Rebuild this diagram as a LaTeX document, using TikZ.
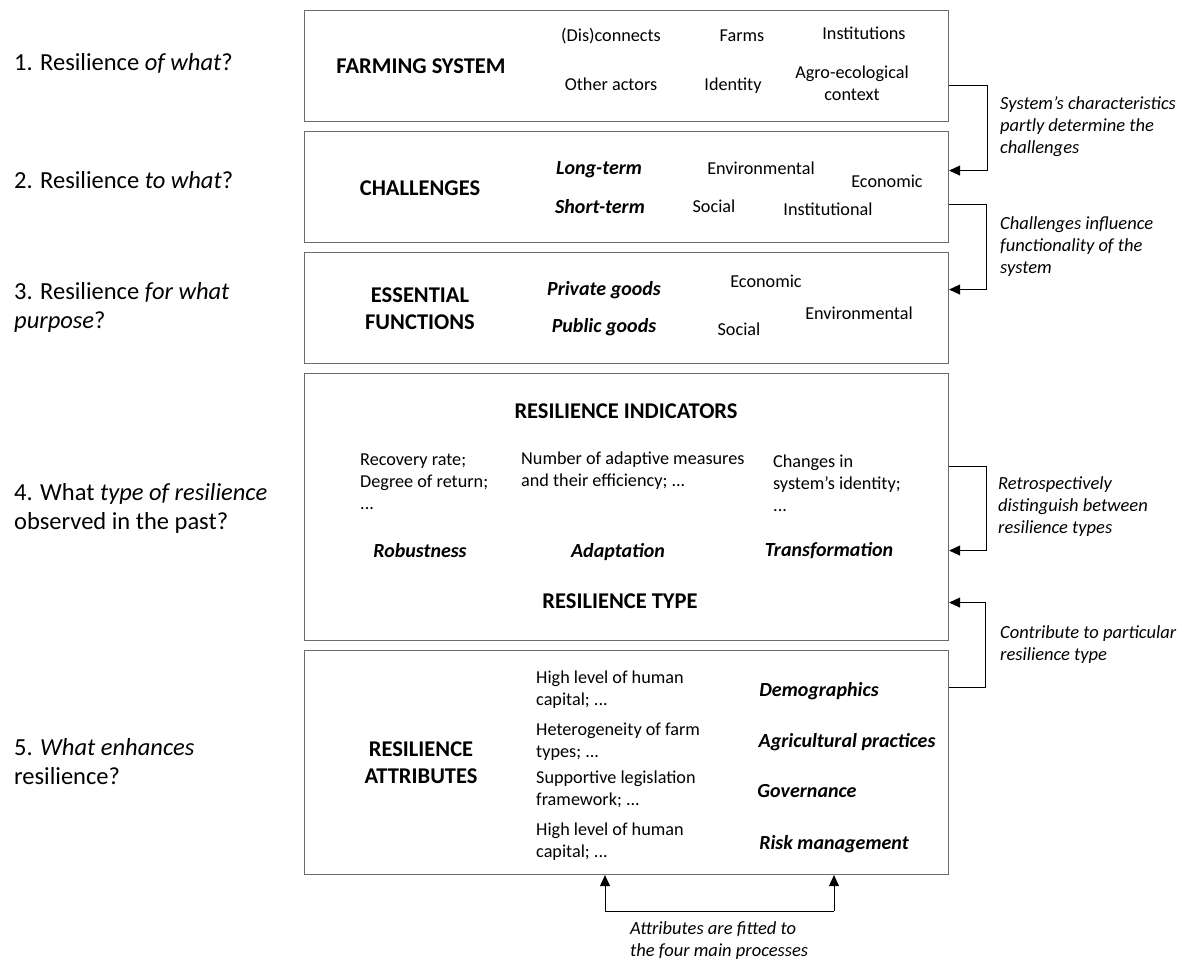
\documentclass[tikz,border=0pt]{standalone}
\usepackage{fontspec}
\setmainfont{Carlito}
\usetikzlibrary{arrows.meta}

\tikzset{
	box/.style={draw=gray!85!black,line width=1.1pt,minimum width=644pt,anchor=north west,inner sep=0pt},
	arr/.style={-{Triangle[length=11pt,width=10pt]},line width=0.9pt},
	lbl/.style={font=\fontsize{24.5}{29}\selectfont,align=left,anchor=base west,inner sep=0pt},
	head/.style={font=\fontsize{22.5}{27}\selectfont\bfseries,align=center,anchor=base,inner sep=0pt},
	txt/.style={font=\fontsize{18.2}{22}\selectfont,align=center,anchor=base,inner sep=0pt},
	ltxt/.style={font=\fontsize{18.2}{22}\selectfont,align=left,anchor=base west,inner sep=0pt},
	key/.style={font=\fontsize{20}{22}\selectfont\bfseries\itshape,anchor=base,inner sep=0pt},
	note/.style={font=\fontsize{18.5}{22}\selectfont\itshape,align=left,anchor=base west,inner sep=0pt}
}

\begin{document}
\begin{tikzpicture}[x=1pt,y=-1pt]
	\useasboundingbox (0,0) rectangle (1184,961);
	% the five boxes
	\node[box,minimum height=111pt] (farm) at (304,10) {};
	\node[box,minimum height=111pt] (chal) at (304,131) {};
	\node[box,minimum height=111pt] (func) at (304,252) {};
	\node[box,minimum height=267pt] (type) at (304,373) {};
	\node[box,minimum height=224pt] (attr) at (304,650) {};
	
	% questions on the left (base = last line)
	\node[lbl] (q1) at (14,70) {1. Resilience \textit{of what}?};
	\node[lbl] (q2) at (14,188) {2. Resilience \textit{to what}?};
	\node[lbl] (q3) at (14,328) {3. Resilience \textit{for what}\\\textit{purpose}?};
	\node[lbl] (q4) at (14,529) {4. What \textit{type of resilience}\\observed in the past?};
	\node[lbl] (q5) at (14,784) {5. \textit{What enhances}\\resilience?};
	
	% 1
	\node[head] (farmh) at (421,73) {FARMING SYSTEM};
	\node[txt] (disc) at (611,41) {(Dis)connects};
	\node[txt] (farms) at (742,41) {Farms};
	\node[txt] (inst) at (864,39) {Institutions};
	\node[txt] (oth) at (611,90) {Other actors};
	\node[txt] (iden) at (733,90) {Identity};
	\node[txt] (agro) at (852,100) {Agro-ecological\\context};
	
	% 2
	\node[head] (chalh) at (420,195) {CHALLENGES};
	\node[key] (long) at (599,174) {Long-term};
	\node[key] (short) at (600,213) {Short-term};
	\node[txt] (env1) at (761,174) {Environmental};
	\node[txt] (eco1) at (887,187) {Economic};
	\node[txt] (soc1) at (714,212) {Social};
	\node[txt] (ins1) at (828,215) {Institutional};
	
	% 3
	\node[head] (funch) at (420,329) {ESSENTIAL\\FUNCTIONS};
	\node[key] (priv) at (604,295) {Private goods};
	\node[key] (pub) at (604,332) {Public goods};
	\node[txt] (eco2) at (766,287) {Economic};
	\node[txt] (env2) at (859,319) {Environmental};
	\node[txt] (soc2) at (739,335) {Social};
	
	% 4
	\node[head] (indh) at (626,418) {RESILIENCE INDICATORS};
	\node[ltxt] (ind1) at (360,509) {Recovery rate;\\Degree of return;\\...};
	\node[ltxt] (ind2) at (521,486) {Number of adaptive measures\\and their efficiency; ...};
	\node[ltxt] (ind3) at (773,511) {Changes in\\system’s identity;\\...};
	\node[key] (rob) at (420,557) {Robustness};
	\node[key] (adap) at (618,557) {Adaptation};
	\node[key] (trans) at (829,556) {Transformation};
	\node[head] (typeh) at (620,608) {RESILIENCE TYPE};
	
	% 5
	\node[head] (attrh) at (421,783) {RESILIENCE\\ATTRIBUTES};
	\node[ltxt] (at1) at (536,705) {High level of human\\capital; ...};
	\node[ltxt] (at2) at (536,757) {Heterogeneity of farm\\types; ...};
	\node[ltxt] (at3) at (536,805) {Supportive legislation\\framework; ...};
	\node[ltxt] (at4) at (536,857) {High level of human\\capital; ...};
	\node[key] (demo) at (819,696) {Demographics};
	\node[key] (agri) at (847,747) {Agricultural practices};
	\node[key] (gov) at (807,797) {Governance};
	\node[key] (risk) at (834,849) {Risk management};
	
	% links between the boxes
	\draw[arr] ([yshift=-19.5pt]farm.east) -- ++(38,0) |- ([yshift=16.5pt]chal.east);
	\draw[arr] ([yshift=-17.5pt]chal.east) -- ++(37,0) |- ([yshift=18.5pt]func.east);
	\draw[arr] ([yshift=40.5pt]type.east) -- ++(37,0) |- ([yshift=-43.5pt]type.east);
	\draw[arr] ([yshift=75pt]attr.east) -- ++(36,0) |- ([yshift=-95.5pt]type.east);
	\node[note] (n1) at (1000,153) {System’s characteristics\\partly determine the\\challenges};
	\node[note] (n2) at (1000,273) {Challenges influence\\functionality of the\\system};
	\node[note] (n3) at (998,533) {Retrospectively\\distinguish between\\resilience types};
	\node[note] (n4) at (1000,660) {Contribute to particular\\resilience type};
	
	\coordinate (f1) at (605,911);
	\coordinate (f2) at (834,911);
	\draw[line width=0.9pt] (f1) -- (f2);
	\draw[arr] (f1) -- (f1 |- attr.south);
	\draw[arr] (f2) -- (f2 |- attr.south);
	\node[note] (n5) at (630,956) {Attributes are fitted to\\the four main processes};
\end{tikzpicture}
\end{document}
